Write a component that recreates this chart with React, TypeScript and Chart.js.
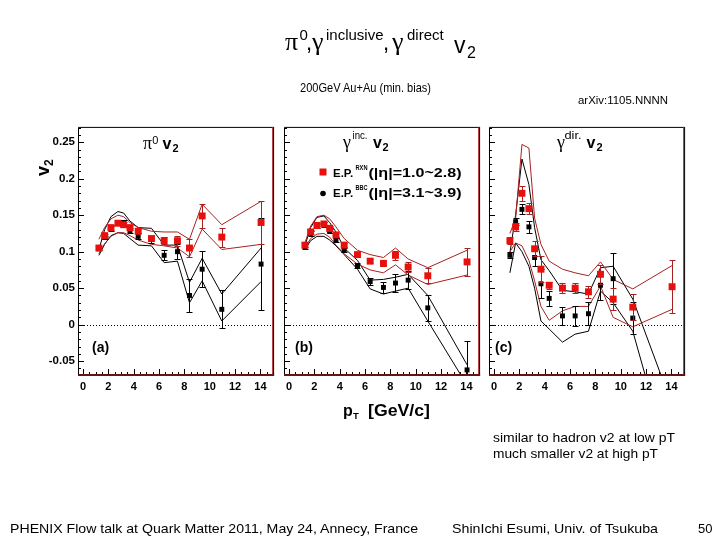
import React, { useEffect, useRef } from 'react';
import { Chart, registerables } from 'chart.js';

Chart.register(...registerables);

// ---------- data ----------
const PT = [1.25, 1.7, 2.2, 2.75, 3.2, 3.7, 4.35, 5.4, 6.4, 7.45, 8.4, 9.4, 10.95, 14.05];
const X_TICK_STEP = 2;
const Y_TICK_STEP = 0.05;

// (a) pi0 v2
const A_RED = [0.105, 0.122, 0.133, 0.139, 0.137, 0.133, 0.128, 0.118, 0.115, 0.115, 0.105, 0.149, 0.120, 0.140];
const A_RED_ERR = [0.002, 0.002, 0.003, 0.003, 0.003, 0.003, 0.003, 0.004, 0.005, 0.007, 0.012, 0.016, 0.013, 0.030];
const A_BLK = [0.104, 0.120, 0.132, 0.140, 0.140, 0.129, 0.121, 0.117, 0.095, 0.100, 0.040, 0.076, 0.021, 0.083];
const A_BLK_ERR = [0.002, 0.002, 0.003, 0.003, 0.004, 0.004, 0.004, 0.005, 0.007, 0.010, 0.023, 0.025, 0.026, 0.063];
const A_RED_HI = [0.117, 0.133, 0.145, 0.150, 0.148, 0.140, 0.133, 0.128, 0.127, 0.127, 0.117, 0.165, 0.137, 0.169];
const A_RED_LO = [0.097, 0.111, 0.121, 0.126, 0.126, 0.122, 0.116, 0.110, 0.108, 0.105, 0.093, 0.131, 0.103, 0.110];
const A_BLK_HI = [0.103, 0.130, 0.148, 0.155, 0.153, 0.142, 0.133, 0.132, 0.109, 0.109, 0.058, 0.091, 0.042, 0.105];
const A_BLK_LO = [0.095, 0.110, 0.122, 0.126, 0.125, 0.118, 0.109, 0.108, 0.085, 0.087, 0.030, 0.060, 0.005, 0.059];

// (b) inclusive photon v2
const B_RED = [0.109, 0.127, 0.136, 0.138, 0.132, 0.123, 0.109, 0.096, 0.087, 0.084, 0.095, 0.079, 0.067, 0.086];
const B_RED_ERR = [0.003, 0.003, 0.003, 0.003, 0.003, 0.003, 0.003, 0.003, 0.003, 0.004, 0.006, 0.007, 0.010, 0.019];
const B_BLK = [0.107, 0.125, 0.135, 0.137, 0.128, 0.116, 0.102, 0.081, 0.059, 0.051, 0.057, 0.061, 0.023, -0.062];
const B_BLK_ERR = [0.003, 0.003, 0.003, 0.003, 0.003, 0.003, 0.003, 0.004, 0.005, 0.007, 0.012, 0.012, 0.018, 0.040];
const B_RED_HI = [0.112, 0.135, 0.148, 0.150, 0.145, 0.134, 0.118, 0.102, 0.096, 0.092, 0.105, 0.090, 0.078, 0.102];
const B_RED_LO = [0.105, 0.118, 0.124, 0.125, 0.120, 0.109, 0.097, 0.083, 0.075, 0.071, 0.082, 0.068, 0.055, 0.068];
const B_BLK_HI = [0.108, 0.133, 0.147, 0.149, 0.140, 0.127, 0.105, 0.088, 0.061, 0.062, 0.065, 0.069, 0.040, -0.055];
const B_BLK_LO = [0.103, 0.115, 0.121, 0.121, 0.116, 0.108, 0.096, 0.076, 0.049, 0.042, 0.046, 0.050, 0.005, -0.083];

// (c) direct photon v2
const C_RED = [0.115, 0.134, 0.180, 0.159, 0.104, 0.076, 0.054, 0.050, 0.050, 0.045, 0.069, 0.035, 0.024, 0.052];
const C_RED_ERR = [0.005, 0.005, 0.010, 0.008, 0.010, 0.018, 0.005, 0.007, 0.007, 0.008, 0.013, 0.015, 0.018, 0.036];
const C_BLK = [0.095, 0.141, 0.158, 0.134, 0.092, 0.056, 0.036, 0.012, 0.012, 0.015, 0.054, 0.063, 0.009];
const C_BLK_ERR = [0.004, 0.005, 0.007, 0.008, 0.012, 0.020, 0.010, 0.012, 0.014, 0.016, 0.020, 0.035, 0.022];
const C_RED_HI = [0.125, 0.145, 0.247, 0.242, 0.146, 0.110, 0.087, 0.076, 0.071, 0.067, 0.086, 0.062, 0.049, 0.081];
const C_RED_LO = [0.100, 0.112, 0.108, 0.088, 0.060, 0.025, 0.006, 0.019, 0.025, 0.025, 0.053, 0.010, -0.003, 0.021];
const C_BLK_HI = [0.098, 0.150, 0.227, 0.192, 0.133, 0.089, 0.074, 0.047, 0.045, 0.042, 0.078, 0.080, 0.035, -0.110];
const C_BLK_LO = [0.071, 0.112, 0.100, 0.080, 0.050, 0.005, -0.006, -0.024, -0.013, -0.009, 0.046, 0.030, -0.009, -0.200];

// ---------- style ----------
const SANS = "'Liberation Sans', Arial, Helvetica, sans-serif";
const SERIF = "'Liberation Serif', 'Times New Roman', serif";
const RED = '#e8100c';
const RED_LINE = '#a82020';
const BLACK = '#000000';
const X_MIN = -0.4;
const X_MAX = 15.0;
const Y_MIN = -0.069;
const Y_MAX = 0.271;
const CANVAS_TOP = 122;
const PAD_TOP = 3;
const PAD_RIGHT = 4;
const PLOT_H = 250;
const X_AXIS_H = 25;
const CANVAS_H = PAD_TOP + PLOT_H + X_AXIS_H;

const pts = (ys: number[]) => ys.map((y, i) => ({ x: PT[i], y }));

const zeroPad = (s: any) => {
  s.paddingTop = 0;
  s.paddingBottom = 0;
  s.paddingLeft = 0;
  s.paddingRight = 0;
};

const rootFrame = {
  id: 'rootFrame',
  beforeDatasetsDraw(chart: any) {
    const { ctx, chartArea: a, scales } = chart;
    const y0 = Math.round(scales.y.getPixelForValue(0)) + 0.5;
    ctx.save();
    ctx.strokeStyle = '#000';
    ctx.lineWidth = 1;
    ctx.setLineDash([1, 2]);
    ctx.beginPath();
    ctx.moveTo(a.left, y0);
    ctx.lineTo(a.right, y0);
    ctx.stroke();
    ctx.restore();
  },
  beforeDatasetDraw(chart: any, args: any) {
    const ds = chart.data.datasets[args.index];
    if (!ds.yErr) return;
    const { ctx, chartArea: a } = chart;
    const xs = chart.scales.x;
    const ys = chart.scales.y;
    ctx.save();
    ctx.beginPath();
    ctx.rect(a.left, a.top, a.right - a.left, a.bottom - a.top);
    ctx.clip();
    ctx.strokeStyle = ds.errColor;
    ctx.lineWidth = 1;
    ds.data.forEach((p: any, i: number) => {
      const e = ds.yErr[i];
      const px = Math.round(xs.getPixelForValue(p.x)) + 0.5;
      const y1 = Math.round(ys.getPixelForValue(p.y + e)) + 0.5;
      const y2 = Math.round(ys.getPixelForValue(p.y - e)) + 0.5;
      ctx.beginPath();
      ctx.moveTo(px, y1);
      ctx.lineTo(px, y2);
      ctx.moveTo(px - 3, y1);
      ctx.lineTo(px + 3, y1);
      ctx.moveTo(px - 3, y2);
      ctx.lineTo(px + 3, y2);
      ctx.stroke();
    });
    ctx.restore();
  },
  afterDraw(chart: any) {
    const { ctx, chartArea: a, scales } = chart;
    const xs = scales.x;
    const ys = scales.y;
    ctx.save();
    ctx.lineWidth = 1;
    ctx.strokeStyle = '#000';
    ctx.beginPath();
    for (let k = Math.ceil(Y_MIN / 0.01); k * 0.01 <= Y_MAX + 1e-9; k++) {
      const py = Math.round(ys.getPixelForValue(k * 0.01)) + 0.5;
      const len = k % 5 === 0 ? 6 : 3;
      ctx.moveTo(a.left, py);
      ctx.lineTo(a.left + len, py);
    }
    for (let k = Math.ceil(X_MIN / 0.5); k * 0.5 <= X_MAX + 1e-9; k++) {
      const px = Math.round(xs.getPixelForValue(k * 0.5)) + 0.5;
      const len = k % 4 === 0 ? 6 : 3;
      ctx.moveTo(px, a.bottom);
      ctx.lineTo(px, a.bottom - len);
    }
    ctx.stroke();
    ctx.beginPath();
    ctx.moveTo(a.left + 0.5, a.bottom);
    ctx.lineTo(a.left + 0.5, a.top + 0.5);
    ctx.lineTo(a.right, a.top + 0.5);
    ctx.stroke();
    ctx.strokeStyle = '#b03030';
    ctx.beginPath();
    ctx.moveTo(a.right - 0.5, a.top);
    ctx.lineTo(a.right - 0.5, a.bottom);
    ctx.stroke();
    ctx.strokeStyle = '#000';
    ctx.beginPath();
    ctx.moveTo(a.right + 0.5, a.top);
    ctx.lineTo(a.right + 0.5, a.bottom + 1);
    ctx.stroke();
    ctx.strokeStyle = '#6a1212';
    ctx.lineWidth = 2;
    ctx.beginPath();
    ctx.moveTo(a.left, a.bottom);
    ctx.lineTo(a.right + 1, a.bottom);
    ctx.stroke();
    ctx.restore();
  },
};

type PanelProps = {
  left: number;
  width: number;
  yAxisWidth: number;
  showY: boolean;
  red: number[];
  redErr: number[];
  blk: number[];
  blkErr: number[];
  redHi: number[];
  redLo: number[];
  blkHi: number[];
  blkLo: number[];
};

function Panel(p: PanelProps) {
  const ref = useRef<HTMLCanvasElement>(null);
  useEffect(() => {
    const line = (ys: number[], color: string) => ({
      data: pts(ys),
      showLine: true,
      borderColor: color,
      borderWidth: 1,
      pointRadius: 0,
      fill: false,
      tension: 0,
      clip: 0,
      order: 2,
    });
    const chart = new Chart(ref.current as HTMLCanvasElement, {
      type: 'scatter',
      data: {
        datasets: [
          {
            data: pts(p.red),
            yErr: p.redErr,
            errColor: RED_LINE,
            pointStyle: 'rect',
            pointRadius: 4.9,
            backgroundColor: RED,
            borderWidth: 0,
            clip: 0,
            order: 0,
          } as any,
          {
            data: pts(p.blk),
            yErr: p.blkErr,
            errColor: BLACK,
            pointStyle: 'rect',
            pointRadius: 3.5,
            backgroundColor: BLACK,
            borderWidth: 0,
            clip: 0,
            order: 1,
          } as any,
          line(p.redHi, RED_LINE) as any,
          line(p.redLo, RED_LINE) as any,
          line(p.blkHi, BLACK) as any,
          line(p.blkLo, BLACK) as any,
        ],
      },
      options: {
        responsive: false,
        animation: false,
        devicePixelRatio: 1,
        events: [],
        layout: { padding: { top: PAD_TOP, right: PAD_RIGHT, left: 0, bottom: 0 } },
        plugins: { legend: { display: false }, tooltip: { enabled: false }, title: { display: false } },
        scales: {
          x: {
            type: 'linear',
            position: 'bottom',
            min: X_MIN,
            max: X_MAX,
            afterFit: (s: any) => {
              s.height = X_AXIS_H;
              zeroPad(s);
            },
            grid: { display: false, drawTicks: false },
            border: { display: false },
            ticks: {
              stepSize: X_TICK_STEP,
              includeBounds: false,
              autoSkip: false,
              maxRotation: 0,
              color: '#000',
              padding: 5,
              font: { family: SANS, size: 11, weight: 'bold' },
              callback: (v: any) => String(Math.round(Number(v))),
            },
          } as any,
          y: {
            type: 'linear',
            position: 'left',
            min: Y_MIN,
            max: Y_MAX,
            afterFit: (s: any) => {
              s.width = p.yAxisWidth;
              zeroPad(s);
            },
            grid: { display: false, drawTicks: false },
            border: { display: false },
            ticks: {
              display: p.showY,
              stepSize: Y_TICK_STEP,
              includeBounds: false,
              autoSkip: false,
              color: '#000',
              padding: 3,
              font: { family: SANS, size: 11.5, weight: 'bold' },
              callback: (v: any) => String(Math.round(Number(v) * 100) / 100),
            },
          } as any,
        },
      },
      plugins: [rootFrame as any],
    });
    return () => chart.destroy();
  }, []);
  return (
    <canvas
      ref={ref}
      width={p.width}
      height={CANVAS_H}
      style={{ position: 'absolute', left: p.left, top: CANVAS_TOP, width: p.width, height: CANVAS_H }}
    />
  );
}

function Overlay() {
  return (
    <svg
      width={720}
      height={540}
      style={{ position: 'absolute', left: 0, top: 0, pointerEvents: 'none' }}
      fontFamily={SANS}
      fill="#000"
    >
      {/* main title */}
      <text>
        <tspan x={285} y={49.5} fontFamily={SERIF} fontSize={26}>π</tspan>
        <tspan x={299.5} y={40} fontSize={15}>0</tspan>
        <tspan x={306} y={49.5} fontSize={22}>,</tspan>
        <tspan x={312} y={50} fontFamily={SERIF} fontSize={26}>γ</tspan>
        <tspan x={326} y={40} fontSize={15}>inclusive</tspan>
        <tspan x={383} y={49.5} fontSize={22}>,</tspan>
        <tspan x={392} y={50} fontFamily={SERIF} fontSize={26}>γ</tspan>
        <tspan x={407} y={40} fontSize={15}>direct</tspan>
        <tspan x={454} y={53} fontSize={23}>v</tspan>
        <tspan x={467} y={57.5} fontSize={16}>2</tspan>
      </text>
      <text x={300} y={92} fontSize={13} textLength={131} lengthAdjust="spacingAndGlyphs">200GeV Au+Au (min. bias)</text>
      <text x={578} y={103.5} fontSize={11} textLength={90} lengthAdjust="spacingAndGlyphs">arXiv:1105.NNNN</text>

      {/* panel titles */}
      <text>
        <tspan x={143} y={149.3} fontFamily={SERIF} fontSize={18}>π</tspan>
        <tspan x={152.3} y={144} fontSize={11}>0</tspan>
        <tspan x={162.5} y={149.3} fontSize={16} fontWeight="bold">v</tspan>
        <tspan x={172.5} y={152} fontSize={11} fontWeight="bold">2</tspan>
      </text>
      <text>
        <tspan x={343} y={148} fontFamily={SERIF} fontSize={18}>γ</tspan>
        <tspan x={352.5} y={139} fontSize={10} textLength={15} lengthAdjust="spacingAndGlyphs">inc.</tspan>
        <tspan x={373} y={148} fontSize={16} fontWeight="bold">v</tspan>
        <tspan x={382.5} y={151} fontSize={11} fontWeight="bold">2</tspan>
      </text>
      <text>
        <tspan x={557} y={148} fontFamily={SERIF} fontSize={18}>γ</tspan>
        <tspan x={564.5} y={139} fontSize={10} textLength={17} lengthAdjust="spacingAndGlyphs">dir.</tspan>
        <tspan x={586.5} y={148} fontSize={16} fontWeight="bold">v</tspan>
        <tspan x={596.5} y={151} fontSize={11} fontWeight="bold">2</tspan>
      </text>

      {/* legend */}
      <rect x={319.5} y={168.5} width={7} height={7} fill={RED} />
      <circle cx={323} cy={193.5} r={2.8} fill={BLACK} />
      <text fontWeight="bold">
        <tspan x={333} y={176.7} fontSize={11.5}>E.P.</tspan>
        <tspan x={355.5} y={169.5} fontSize={7.5} textLength={12} lengthAdjust="spacingAndGlyphs">RXN</tspan>
        <tspan x={368.5} y={176.7} fontSize={12} textLength={93} lengthAdjust="spacingAndGlyphs">(|η|=1.0~2.8)</tspan>
      </text>
      <text fontWeight="bold">
        <tspan x={333} y={197.3} fontSize={11.5}>E.P.</tspan>
        <tspan x={355.5} y={190} fontSize={7.5} textLength={12} lengthAdjust="spacingAndGlyphs">BBC</tspan>
        <tspan x={368.5} y={197.3} fontSize={12} textLength={93} lengthAdjust="spacingAndGlyphs">(|η|=3.1~3.9)</tspan>
      </text>

      {/* panel letters */}
      <text x={92} y={352} fontSize={14} fontWeight="bold">(a)</text>
      <text x={295} y={352} fontSize={14} fontWeight="bold">(b)</text>
      <text x={495} y={352} fontSize={14} fontWeight="bold">(c)</text>

      {/* axis titles */}
      <text transform="translate(49,176) rotate(-90)" fontWeight="bold" fontSize={18}>
        v<tspan fontSize={12} dy={4}>2</tspan>
      </text>
      <text fontWeight="bold">
        <tspan x={343} y={415.5} fontSize={16}>p</tspan>
        <tspan x={353} y={419.3} fontSize={9.5}>T</tspan>
        <tspan x={368} y={415.5} fontSize={16} textLength={62} lengthAdjust="spacingAndGlyphs">[GeV/c]</tspan>
      </text>

      {/* notes */}
      <text x={493} y={441.5} fontSize={13} textLength={182} lengthAdjust="spacingAndGlyphs">similar to hadron v2 at low pT</text>
      <text x={493} y={457.5} fontSize={13} textLength={165} lengthAdjust="spacingAndGlyphs">much smaller v2 at high pT</text>

      {/* footer */}
      <text x={10} y={532.5} fontSize={13} textLength={408} lengthAdjust="spacingAndGlyphs">PHENIX Flow talk at Quark Matter 2011, May 24, Annecy, France</text>
      <text x={452} y={532.5} fontSize={13} textLength={206} lengthAdjust="spacingAndGlyphs">ShinIchi Esumi, Univ. of Tsukuba</text>
      <text x={698} y={532.5} fontSize={13}>50</text>
    </svg>
  );
}

export default function App() {
  return (
    <div style={{ position: 'absolute', left: 0, top: 0, width: 720, height: 540, background: '#fff', overflow: 'hidden' }}>
      <Panel
        left={0}
        width={278}
        yAxisWidth={78}
        showY={true}
        red={A_RED}
        redErr={A_RED_ERR}
        blk={A_BLK}
        blkErr={A_BLK_ERR}
        redHi={A_RED_HI}
        redLo={A_RED_LO}
        blkHi={A_BLK_HI}
        blkLo={A_BLK_LO}
      />
      <Panel
        left={274}
        width={210}
        yAxisWidth={10}
        showY={false}
        red={B_RED}
        redErr={B_RED_ERR}
        blk={B_BLK}
        blkErr={B_BLK_ERR}
        redHi={B_RED_HI}
        redLo={B_RED_LO}
        blkHi={B_BLK_HI}
        blkLo={B_BLK_LO}
      />
      <Panel
        left={479}
        width={210}
        yAxisWidth={10}
        showY={false}
        red={C_RED}
        redErr={C_RED_ERR}
        blk={C_BLK}
        blkErr={C_BLK_ERR}
        redHi={C_RED_HI}
        redLo={C_RED_LO}
        blkHi={C_BLK_HI}
        blkLo={C_BLK_LO}
      />
      <Overlay />
    </div>
  );
}
